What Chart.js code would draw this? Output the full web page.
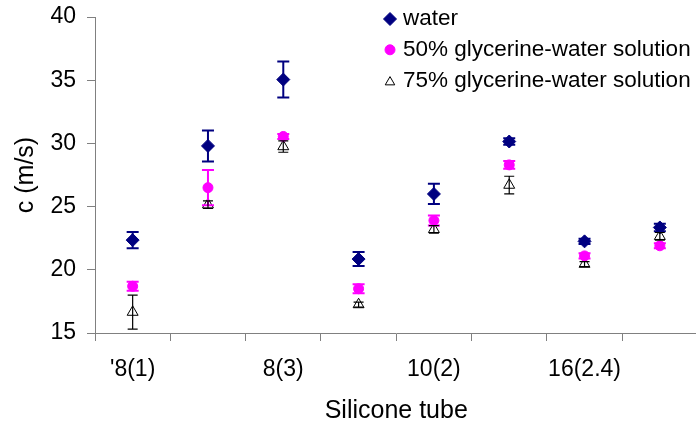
<!DOCTYPE html>
<html>
<head>
<meta charset="utf-8">
<script src="https://cdn.jsdelivr.net/npm/chart.js@4.4.0/dist/chart.umd.min.js"></script>
<style>
  html, body { margin: 0; padding: 0; overflow: hidden; background: #ffffff; }
  #wrap { width: 705px; height: 426px; }
</style>
</head>
<body>
<div id="wrap"><canvas id="c" width="705" height="426"></canvas></div>
<script>
// ---- data ----
const categories = ["'8(1)", "", "8(3)", "", "10(2)", "", "16(2.4)", ""];
const seriesNames = ["water", "50% glycerine-water solution", "75% glycerine-water solution"];
const water = [22.35, 29.8, 35.05, 20.85, 26.0, 30.15, 22.25, 23.35];
const waterErr = [0.65, 1.23, 1.42, 0.55, 0.8, 0.25, 0.2, 0.3];
const gly50 = [18.7, 26.5, 30.55, 18.5, 23.9, 28.3, 21.1, 21.9];
const gly50Err = [0.35, 1.4, 0.2, 0.35, 0.4, 0.3, 0.2, 0.2];
const gly75 = [16.65, 25.15, 29.75, 17.25, 23.2, 26.7, 20.45, 22.65];
const gly75Err = [1.35, 0.3, 0.45, 0.2, 0.3, 0.7, 0.2, 0.3];
const yTicks = [15, 20, 25, 30, 35, 40];

const FONT = "'Liberation Sans', Arial, sans-serif";

const errorBars = {
  id: 'errorBars',
  afterDatasetsDraw(chart) {
    const ctx = chart.ctx;
    const y = chart.scales.y;
    chart.data.datasets.forEach((ds, di) => {
      const meta = chart.getDatasetMeta(di);
      ctx.save();
      ctx.strokeStyle = ds.errColor;
      ctx.lineWidth = ds.errWidth;
      ds.data.forEach((v, i) => {
        const e = ds.errors[i];
        const px = meta.data[i].x;
        const top = y.getPixelForValue(v + e);
        const bot = y.getPixelForValue(v - e);
        const hw = ds.capHalf;
        ctx.beginPath();
        ctx.moveTo(px, top); ctx.lineTo(px, bot);
        ctx.moveTo(px - hw, top); ctx.lineTo(px + hw, top);
        ctx.moveTo(px - hw, bot); ctx.lineTo(px + hw, bot);
        ctx.stroke();
      });
      ctx.restore();
    });
  }
};

const legendPlugin = {
  id: 'customLegend',
  afterDraw(chart) {
    const ctx = chart.ctx;
    const rows = [19, 49.8, 80.6];
    const mx = 390, tx = 403;
    chart.data.datasets.forEach((ds, i) => {
      const yy = rows[i];
      ctx.save();
      ctx.fillStyle = ds.pointBackgroundColor;
      ctx.strokeStyle = ds.pointBorderColor;
      ctx.lineWidth = ds.pointBorderWidth;
      Chart.helpers.drawPoint(ctx, {
        pointStyle: ds.pointStyle,
        radius: ds.legendRadius,
        borderWidth: ds.pointBorderWidth,
        rotation: 0
      }, mx, yy + (ds.pointStyle === 'triangle' ? 1.5 : 0));
      ctx.restore();
      ctx.save();
      ctx.fillStyle = '#000000';
      ctx.font = '22.5px ' + FONT;
      ctx.textBaseline = 'middle';
      ctx.textAlign = 'left';
      ctx.fillText(ds.label, tx, yy);
      ctx.restore();
    });
  }
};

new Chart(document.getElementById('c'), {
  type: 'line',
  data: {
    labels: categories,
    datasets: [
      { label: seriesNames[0], data: water, errors: waterErr, showLine: false,
        pointStyle: 'rectRot', pointRadius: 6.5, legendRadius: 6.5,
        pointBackgroundColor: '#000080', pointBorderColor: '#000080', pointBorderWidth: 1,
        errColor: '#000080', errWidth: 2, capHalf: 6 },
      { label: seriesNames[1], data: gly50, errors: gly50Err, showLine: false,
        pointStyle: 'circle', pointRadius: 5, legendRadius: 5,
        pointBackgroundColor: '#FF00FF', pointBorderColor: '#FF00FF', pointBorderWidth: 1,
        errColor: '#FF00FF', errWidth: 2, capHalf: 6 },
      { label: seriesNames[2], data: gly75, errors: gly75Err, showLine: false,
        pointStyle: 'triangle', pointRadius: 6.3, legendRadius: 5.5,
        pointBackgroundColor: '#FFFFFF', pointBorderColor: '#000000', pointBorderWidth: 1,
        errColor: '#000000', errWidth: 1.2, capHalf: 5 }
    ]
  },
  options: {
    responsive: false,
    animation: false,
    devicePixelRatio: 1,
    layout: { padding: { top: 17, left: 0, right: 0, bottom: 0 } },
    plugins: { legend: { display: false }, tooltip: { enabled: false } },
    scales: {
      x: {
        type: 'category',
        offset: true,
        grid: { display: true, drawOnChartArea: false, drawTicks: true, tickLength: 8, offset: true, color: '#808080' },
        border: { display: true, color: '#808080', width: 1 },
        ticks: { color: '#000000', font: { family: FONT, size: 23 }, padding: 15, autoSkip: false, maxRotation: 0 },
        title: { display: true, text: 'Silicone tube', color: '#000000', font: { family: FONT, size: 25 }, padding: { top: 0, bottom: 0 } },
        afterFit(s) { s.height = 93; s.paddingLeft = 0; s.paddingRight = 0; }
      },
      y: {
        min: yTicks[0], max: yTicks[yTicks.length - 1],
        afterBuildTicks(s) { s.ticks = yTicks.map(v => ({ value: v })); },
        grid: { display: true, drawOnChartArea: false, drawTicks: true, tickLength: 8, color: '#808080' },
        border: { display: true, color: '#808080', width: 1 },
        ticks: { color: '#000000', font: { family: FONT, size: 23 }, padding: 11 },
        title: { display: true, text: 'c (m/s)', color: '#000000', font: { family: FONT, size: 25 }, padding: { top: 11, bottom: 0 } },
        afterFit(s) { s.width = 95; s.paddingTop = 0; s.paddingBottom = 0; }
      }
    }
  },
  plugins: [errorBars, legendPlugin]
});
</script>
</body>
</html>
